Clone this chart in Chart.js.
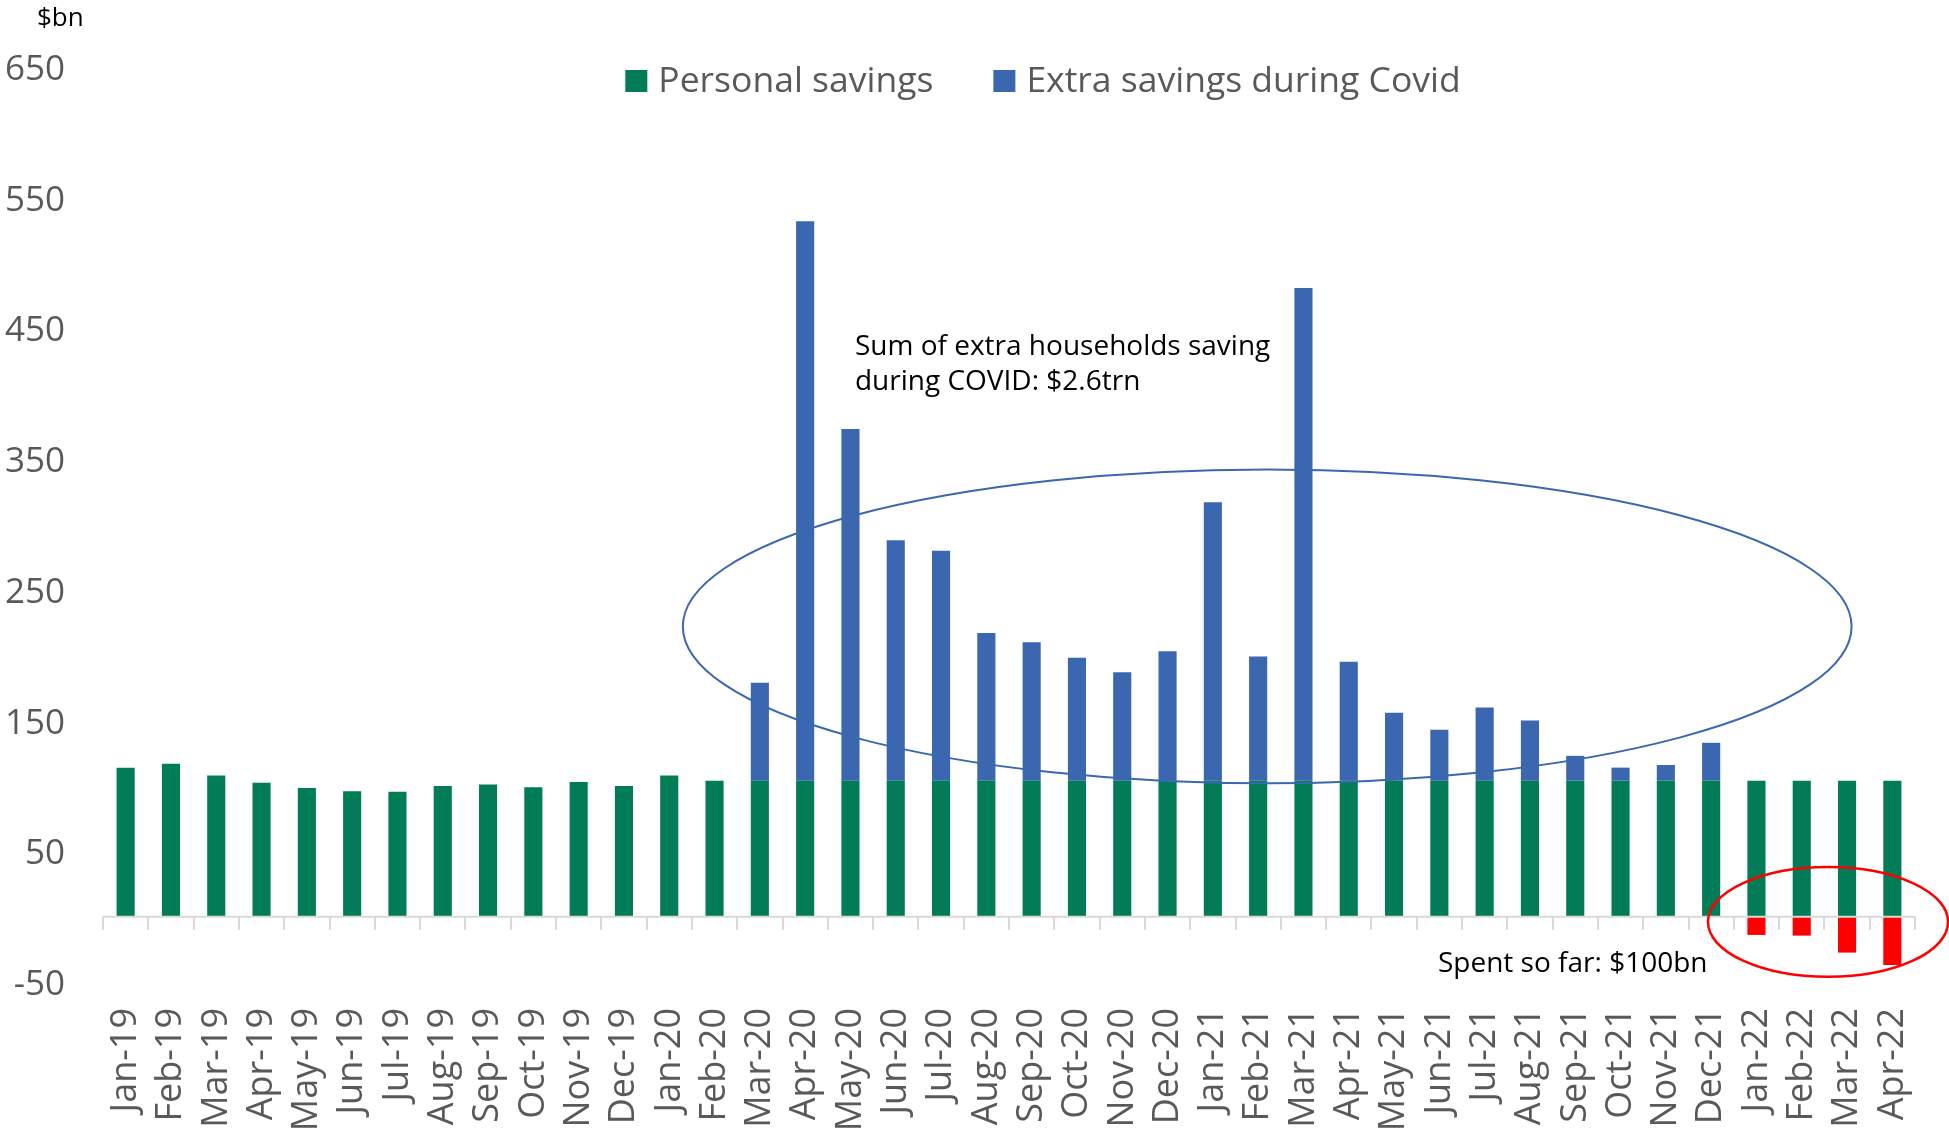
<!DOCTYPE html>
<html>
<head>
<meta charset="utf-8">
<script src="https://cdn.jsdelivr.net/npm/chart.js@4.4.1/dist/chart.umd.min.js"></script>
<style>
html, body { margin: 0; padding: 0; background: #fff; }
#wrap { width: 1949px; height: 1130px; }
</style>
</head>
<body>
<div id="wrap"><canvas id="chart" width="1949" height="1130"></canvas></div>
<script>
// 月份
const months = [
    'Jan-19','Feb-19','Mar-19','Apr-19','May-19','Jun-19','Jul-19','Aug-19','Sep-19','Oct-19','Nov-19','Dec-19',
    'Jan-20','Feb-20','Mar-20','Apr-20','May-20','Jun-20','Jul-20','Aug-20','Sep-20','Oct-20','Nov-20','Dec-20',
    'Jan-21','Feb-21','Mar-21','Apr-21','May-21','Jun-21','Jul-21','Aug-21','Sep-21','Oct-21','Nov-21','Dec-21',
    'Jan-22','Feb-22','Mar-22','Apr-22'
];

// $bn
const personalSavings = [
    114, 117, 108, 102.5, 98.5, 96, 95.5, 100, 101, 99, 103, 100,
    108, 104, 104, 104, 104, 104, 104, 104, 104, 104, 104, 104,
    104, 104, 104, 104, 104, 104, 104, 104, 104, 104, 104, 104,
    104, 104, 104, 104
];
const extraSavings = [
    null, null, null, null, null, null, null, null, null, null, null, null,
    null, null, 75, 428, 269, 184, 176, 113, 106, 94, 83, 99,
    213, 95, 377, 91, 52, 39, 56, 46, 19, 10, 12, 29,
    null, null, null, null
];
const spentSavings = [
    null, null, null, null, null, null, null, null, null, null, null, null,
    null, null, null, null, null, null, null, null, null, null, null, null,
    null, null, null, null, null, null, null, null, null, null, null, null,
    -14, -14.5, -27.5, -37
];
const yTicks = [-50, 50, 150, 250, 350, 450, 550, 650];

const seriesNames = ['Personal savings', 'Extra savings during Covid', 'Spent'];
const seriesColors = ['#027C56', '#3A67B0', '#FF0000'];

const FONT = "'Open Sans', 'DejaVu Sans', sans-serif";
const NOTE_FONT = "'Open Sans', 'DejaVu Sans', sans-serif";
const GREY = '#595959';

// 註解 (以資料座標表示)
const covidNote = { lines: ['Sum of extra households saving', 'during COVID: $2.6trn'], x: 16.1, y: 436 };
const spentNote = { text: 'Spent so far: $100bn', x: 28.97, y: -36 };
const covidRing = { x: 25.2, y: 222, rx: 12.9, ry: 120, color: '#3A67B0', width: 2 };
const spentRing = { x: 37.58, y: -4, rx: 2.65, ry: 42, color: '#FF0000', width: 2.5 };

const ellipseAt = (ctx, xs, ys, ring) => {
    const cx = xs.getPixelForValue(ring.x);
    const cy = ys.getPixelForValue(ring.y);
    const rx = xs.getPixelForValue(ring.x + ring.rx) - cx;
    const ry = ys.getPixelForValue(ring.y - ring.ry) - cy;
    ctx.beginPath();
    ctx.ellipse(cx, cy, rx, ry, 0, 0, Math.PI * 2);
    ctx.strokeStyle = ring.color;
    ctx.lineWidth = ring.width;
    ctx.stroke();
};

const extras = {
    id: 'extras',
    afterDatasetsDraw(chart) {
        const { ctx, chartArea, scales: { x, y } } = chart;
        ctx.save();

        // 零軸與刻度
        const y0 = y.getPixelForValue(0);
        ctx.strokeStyle = '#d9d9d9';
        ctx.lineWidth = 2;
        ctx.beginPath();
        ctx.moveTo(x.left, y0);
        ctx.lineTo(x.right, y0);
        for (let i = 0; i <= months.length; i++) {
            const px = Math.round(x.getPixelForValue(i - 0.5));
            ctx.moveTo(px, y0);
            ctx.lineTo(px, y0 + 13);
        }
        ctx.stroke();

        // 圈
        ellipseAt(ctx, x, y, covidRing);
        ellipseAt(ctx, x, y, spentRing);

        // 文字
        ctx.fillStyle = '#000';
        ctx.font = `28px ${NOTE_FONT}`;
        ctx.textAlign = 'left';
        ctx.textBaseline = 'middle';
        const nx = x.getPixelForValue(covidNote.x);
        const ny = y.getPixelForValue(covidNote.y);
        covidNote.lines.forEach((t, i) => ctx.fillText(t, nx, ny + i * 35));
        ctx.fillText(spentNote.text, x.getPixelForValue(spentNote.x), y.getPixelForValue(spentNote.y));

        // 單位
        ctx.font = `26px ${NOTE_FONT}`;
        ctx.fillText('$bn', 37, 19);

        // 圖例
        ctx.font = `35.5px ${FONT}`;
        const box = 22, gapText = 11, gapItem = 60;
        const items = [0, 1];
        const widths = items.map(i => box + gapText + ctx.measureText(seriesNames[i]).width);
        const total = widths.reduce((a, b) => a + b, 0) + gapItem * (items.length - 1);
        let lx = (chartArea.left + chartArea.right) / 2 + 34 - total / 2;
        const ly = 81;
        items.forEach((i, k) => {
            ctx.fillStyle = seriesColors[i];
            ctx.fillRect(lx, ly - box / 2, box, box);
            ctx.fillStyle = GREY;
            ctx.fillText(seriesNames[i], lx + box + gapText, ly + 1);
            lx += widths[k] + gapItem;
        });

        ctx.restore();
    }
};

const datasets = [personalSavings, extraSavings, spentSavings].map((d, i) => ({
    label: seriesNames[i],
    data: d,
    backgroundColor: seriesColors[i],
    borderWidth: 0,
    stack: 'savings',
    barPercentage: 0.4,
    categoryPercentage: 1.0
}));

new Chart(document.getElementById('chart').getContext('2d'), {
    type: 'bar',
    data: { labels: months, datasets: datasets },
    options: {
        responsive: false,
        animation: false,
        layout: { padding: { top: 67, right: 34, left: 0, bottom: 0 } },
        plugins: { legend: { display: false }, tooltip: { enabled: false } },
        scales: {
            x: {
                stacked: true,
                grid: { display: false, drawTicks: false },
                border: { display: false },
                ticks: {
                    autoSkip: false, maxRotation: 90, minRotation: 90, padding: 26,
                    color: GREY, font: { family: FONT, size: 36 }
                },
                afterFit: s => { s.height = 148; s.paddingLeft = 0; s.paddingRight = 0; }
            },
            y: {
                stacked: true,
                min: -50, max: 650,
                grid: { display: false, drawTicks: false },
                border: { display: false },
                ticks: { padding: 38, labelOffset: 3, color: GREY, font: { family: FONT, size: 35 } },
                afterBuildTicks: s => { s.ticks = yTicks.map(v => ({ value: v })); },
                afterFit: s => { s.width = 103; }
            }
        }
    },
    plugins: [extras]
});
</script>
</body>
</html>
